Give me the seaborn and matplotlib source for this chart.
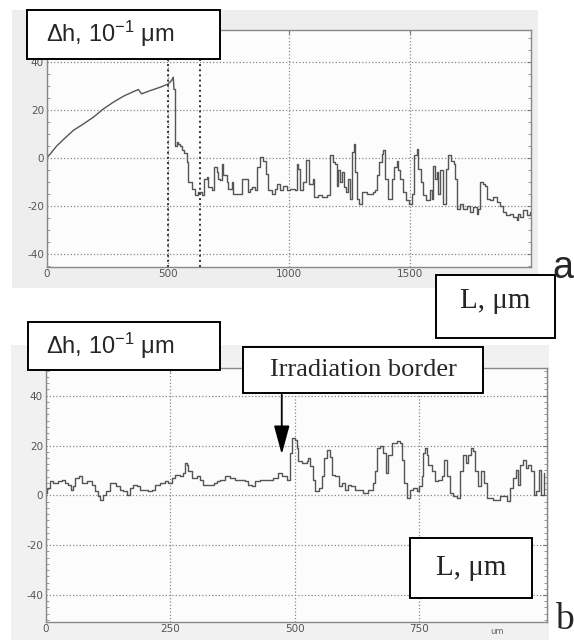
import matplotlib
matplotlib.use("Agg")
import matplotlib.pyplot as plt
from matplotlib.patches import Rectangle
from matplotlib.ticker import MultipleLocator
import seaborn as sns

# profile a: height change along the scan, 10^-1 um
a_x = [0, 21, 41, 69, 110, 152, 193, 234, 275, 317, 358, 379, 392, 427, 468, 502, 516, 523,
       526, 530, 537, 544, 551, 560, 567, 578, 585, 599, 613, 627, 640, 650, 661, 668, 682,
       691, 702, 709, 716, 723, 730, 744, 751, 764, 771, 799, 806, 826, 830, 840, 847, 861,
       870, 881, 895, 906, 916, 930, 944, 953, 964, 978, 992, 1006, 1026, 1033, 1040, 1047,
       1061, 1072, 1081, 1085, 1102, 1106, 1123, 1137, 1157, 1169, 1182, 1191, 1198, 1205,
       1212, 1219, 1229, 1237, 1247, 1253, 1260, 1270, 1275, 1281, 1292, 1301, 1322, 1336,
       1350, 1357, 1364, 1375, 1385, 1391, 1398, 1412, 1426, 1436, 1446, 1453, 1460, 1471,
       1485, 1498, 1508, 1517, 1529, 1536, 1546, 1557, 1567, 1584, 1591, 1598, 1605, 1612,
       1619, 1625, 1636, 1650, 1660, 1670, 1681, 1688, 1695, 1708, 1722, 1736, 1750, 1763,
       1777, 1784, 1791, 1801, 1812, 1818, 1832, 1846, 1859, 1873, 1887, 1900, 1914, 1928,
       1942, 1949, 1956, 1969, 1983, 1997]
a_y = [0, 2.5, 5, 7.7, 11.5, 14.2, 17, 20.4, 23.2, 25.7, 27.6, 28.5, 26.7, 28, 29.4, 30.8, 32.2, 33.6,
       28.5, 5.2, 6.5, 6, 5, 3.5, 2, -1.7, -10, -12.7, -15.5, -14.1, -15.5, -8.6, -7.9, -12, -13.4,
       -3.8, -5.8, -8.6, -9.3, -2.4, -7.2, -10, -12.7, -10, -14.8, -14.8, -8.6, -8.6, -14.1, -12.7, -12, -13.4,
       -3.8, 0.4, -1, -6.5, -13.4, -14.8, -12.7, -10.7, -13.4, -11.4, -13.4, -12.7, -13.4, -2.4, -4.4, -13.4,
       -10, -0.6, -0.6, -10.7, -8.6, -16.2, -15.5, -16.2, -15.5, 1.1, -1.7, -2.4, -11.4, -5.1,
       -10, -5.8, -12, -14.1, -8.6, -16.9, 2.4, 5.9, -5.8, -16.9, -19, -14.1, -14.8, -14.8,
       -14.1, -13.4, -7.2, -1.7, 1.8, 3.2, -8.6, -16.9, -8.6, -3.8, -1, -5.1, -8.6, -14.1,
       -17.6, -19, -14.8, 1.1, 3.9, -4.4, -10, -15.5, -17.6, -13.4, -16.9, -3.1, -8.6, -5.8,
       -14.8, -5.1, -19, -4.4, 1.1, -1, -2.4, -8.6, -21.1, -19, -21.1, -19.7, -22.4, -20.4,
       -23.1, -21, -10, -10.7, -11.4, -16.9, -17.6, -16.2, -18.3, -19.7, -22.4, -23.8, -23.1, -24.5,
       -25.9, -23.1, -24.5, -21.7, -23.8, -22.4]
a_smooth_n = 19  # the first points (the rising slope) are a smooth trace, the rest is stepped
a_xticks = [0, 500, 1000, 1500]
a_yticks = [-40, -20, 0, 20, 40]
a_borders = [500, 632]

# profile b
b_x = [0, 2, 9, 15, 25, 32, 39, 45, 50, 55, 59, 66, 72, 82, 92, 99, 106, 110, 116, 122, 129,
       136, 142, 149, 156, 163, 170, 176, 183, 189, 199, 206, 213, 219, 229, 239, 246, 253,
       260, 270, 276, 280, 283, 286, 293, 303, 310, 316, 326, 337, 343, 350, 360, 370, 380,
       390, 400, 407, 414, 420, 430, 444, 457, 467, 474, 484, 491, 495, 501, 505, 507, 514,
       524, 527, 531, 536, 541, 548, 554, 559, 564, 571, 574, 581, 588, 594, 601, 607, 614,
       621, 631, 638, 648, 658, 661, 666, 671, 678, 683, 688, 695, 705, 711, 715, 719, 725,
       731, 738, 745, 750, 755, 758, 761, 765, 768, 775, 781, 788, 795, 799, 805, 811, 818,
       826, 831, 838, 843, 848, 854, 858, 863, 868, 874, 881, 886, 899, 912, 926, 932, 939,
       945, 949, 952, 959, 964, 969, 975, 980, 985, 991, 995, 1000]
b_y = [1, 2.9, 5.6, 4.9, 5.6, 6.3, 4.9, 4.3, 2.3, 3.6, 6.9, 7.6, 4.9, 5.6, 4.3, 1.6, -0.4, -1.7, 0.3, 1.6, 4.9,
       4.9, 3.6, 2.3, 1.6, 0.3, 2.9, 4.3, 3.6, 2.3, 2.3, 1.6, 2.3, 4.3, 4.9, 5.6, 4.9, 6.9,
       8.3, 7.6, 8.9, 12.9, 12.2, 9.6, 6.9, 7.6, 6.3, 4.3, 4.3, 4.9, 5.6, 6.3, 7.6, 6.9, 6.3,
       6.3, 5.6, 4.3, 3.6, 5.6, 6.3, 6.3, 6.9, 8.9, 7.6, 6.3, 17, 23, 22.4, 19, 13.7, 13,
       13.7, 15, 11.6, 6.3, 1.6, 2.9, 7.6, 15, 18.3, 15.6, 8.3, 7.6, 3.6, 4.9, 2.3, 4.3, 3.6,
       2.3, 2.3, 0.9, 2.3, 4.9, 9.6, 19, 19.7, 17, 8.9, 16.3, 21, 21.7, 21, 14.3, 4.9, -1.1,
       2.3, 2.9, 1.6, 3.6, 7.6, 17, 19, 16.3, 12.3, 9.6, 5.6, 6.3, 7.6, 14.3, 7.6, 0.9, -0.4,
       -1.1, 9.6, 16.3, 13, 16.3, 19, 17.7, 9.6, 3.6, 9.6, 4.9, -1.1, -1.8, -0.4, -2.4, 2.9, 6.9,
       10.2, 4.2, 12.3, 14.3, 11, 12.3, 9.6, 0.3, 1.6, 10.2, 0.3, 9]
b_xticks = [0, 250, 500, 750]
b_yticks = [-40, -20, 0, 20, 40]
b_border = 474

W, H = 574, 640

sns.set_style("white")
plt.rcParams["mathtext.fontset"] = "custom"
plt.rcParams["mathtext.rm"] = "Liberation Sans"
plt.rcParams["mathtext.it"] = "Liberation Sans:italic"
plt.rcParams["axes.unicode_minus"] = False

fig = plt.figure(figsize=(W / 100, H / 100), dpi=100)
fig.patch.set_facecolor("white")


def fig_rect(x0, y0, x1, y1, **kw):
    # pixel box, measured from the top left corner
    r = Rectangle((x0 / W, 1 - y1 / H), (x1 - x0) / W, (y1 - y0) / H,
                  transform=fig.transFigure, **kw)
    fig.patches.append(r)


def fig_text(x, y, s, **kw):
    fig.text(x / W, 1 - y / H, s, zorder=7, **kw)


# scanned picture backgrounds
fig_rect(12, 10, 538, 288, fc="#eeeeee", ec="none", zorder=-2)
fig_rect(11, 345, 549, 640, fc="#f1f1f1", ec="none", zorder=-2)

ax_a = fig.add_axes([46.7 / W, 1 - 266.7 / H, 484 / W, 236.7 / H])
ax_b = fig.add_axes([45.7 / W, 1 - 621.7 / H, 501.5 / W, 253.4 / H])

line_kw = dict(color="#555555", linewidth=1.0, estimator=None)
sns.lineplot(x=a_x[:a_smooth_n], y=a_y[:a_smooth_n], ax=ax_a, **line_kw)
sns.lineplot(x=a_x[a_smooth_n - 1:], y=a_y[a_smooth_n - 1:], ax=ax_a,
             drawstyle="steps-post", **line_kw)
sns.lineplot(x=b_x, y=b_y, ax=ax_b, drawstyle="steps-post", **line_kw)

for ax, xt, yt in [(ax_a, a_xticks, a_yticks), (ax_b, b_xticks, b_yticks)]:
    ax.set_facecolor("#fcfcfc")
    ax.set_xticks(xt)
    ax.set_yticks(yt)
    ax.grid(True, linestyle=":", color="#888888", linewidth=0.9)
    ax.tick_params(direction="in", length=3, width=0.8, color="#777777",
                   labelsize=7.5, labelcolor="#555555", top=True, right=True, pad=2)
    ax.tick_params(which="minor", direction="in", length=2, width=0.6, color="#888888",
                   left=True, right=True)
    for sp in ax.spines.values():
        sp.set_color("#888888")
        sp.set_linewidth(1.0)
    ax.set_xlabel("")
    ax.set_ylabel("")

ax_a.set_xlim(0, 2000)
ax_a.set_ylim(-45.1, 53.2)
ax_a.yaxis.set_minor_locator(MultipleLocator(5))
for xb in a_borders:
    ax_a.axvline(xb, linestyle=":", color="#333333", linewidth=1.4)

ax_b.set_xlim(0, 1007)
ax_b.set_ylim(-50.7, 51)
ax_b.yaxis.set_minor_locator(MultipleLocator(2.5))
ax_b.text(907, -0.02, "um", transform=ax_b.get_xaxis_transform(), ha="center", va="top",
          fontsize=6, color="#666666")
ax_b.annotate("", xy=(b_border, 16.5), xytext=(b_border, 40.4),
              arrowprops=dict(arrowstyle="-|>,head_length=1.1,head_width=0.3", color="black",
                              lw=1.3, mutation_scale=16, shrinkA=0, shrinkB=0))

box_kw = dict(fc="white", ec="black", lw=1.4, zorder=6)
sans = "Liberation Sans"
serif = "Liberation Serif"

# panel a labels
fig_rect(26.7, 10, 220, 59.3, **box_kw)
fig_text(46, 34, r"Δh, 10$^{\mathregular{-1}}$ μm", fontsize=17, family=sans, va="center")
fig_rect(436, 275, 555, 338, **box_kw)
fig_text(495, 301, "L, μm", fontsize=21, family=serif, ha="center", va="center")
fig_text(563, 268, "a", fontsize=27, family=sans, ha="center", va="center")

# panel b labels
fig_rect(28, 321.7, 220, 370, **box_kw)
fig_text(46, 346, r"Δh, 10$^{\mathregular{-1}}$ μm", fontsize=17, family=sans, va="center")
fig_rect(243, 346.7, 483, 393.3, **box_kw)
fig_text(363, 370, "Irradiation border", fontsize=19, family=serif, ha="center", va="center")
fig_rect(410, 538, 531.7, 598, **box_kw)
fig_text(471, 568, "L, μm", fontsize=21, family=serif, ha="center", va="center")
fig_text(564, 637, "b", fontsize=27, family=serif, ha="center", va="bottom")

fig.savefig("out.png", dpi=100)
